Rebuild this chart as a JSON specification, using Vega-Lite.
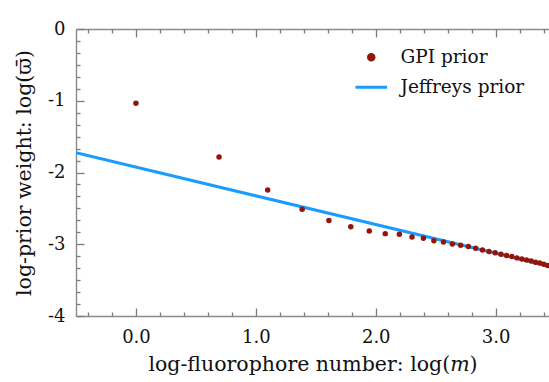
{
  "$schema": "https://vega.github.io/schema/vega-lite/v6.json",
  "autosize": "none",
  "width": 473,
  "height": 287,
  "padding": {"left": 76, "top": 29, "right": 0, "bottom": 66},
  "background": "white",
  "config": {
    "view": {"stroke": null},
    "font": "DejaVu Serif",
    "axis": {
      "domainColor": "#8a8a8a",
      "domainWidth": 1.4,
      "tickColor": "#7a7a7a",
      "tickWidth": 1.3,
      "grid": false,
      "labelFont": "DejaVu Serif",
      "labelFontSize": 18,
      "labelColor": "#111111",
      "titleFont": "DejaVu Serif",
      "titleFontSize": 20.5,
      "titleFontWeight": "normal",
      "titleColor": "#111111"
    },
    "legend": {
      "labelFont": "DejaVu Serif",
      "labelFontSize": 18.5,
      "labelColor": "#111111"
    }
  },
  "datasets": {
    "gpi": [
      {"m": 1, "x": 0.0, "y": -1.035, "series": "GPI prior"},
      {"m": 2, "x": 0.6931, "y": -1.784, "series": "GPI prior"},
      {"m": 3, "x": 1.0986, "y": -2.244, "series": "GPI prior"},
      {"m": 4, "x": 1.3863, "y": -2.513, "series": "GPI prior"},
      {"m": 5, "x": 1.6094, "y": -2.668, "series": "GPI prior"},
      {"m": 6, "x": 1.7918, "y": -2.757, "series": "GPI prior"},
      {"m": 7, "x": 1.9459, "y": -2.815, "series": "GPI prior"},
      {"m": 8, "x": 2.0794, "y": -2.852, "series": "GPI prior"},
      {"m": 9, "x": 2.1972, "y": -2.862, "series": "GPI prior"},
      {"m": 10, "x": 2.3026, "y": -2.899, "series": "GPI prior"},
      {"m": 11, "x": 2.3979, "y": -2.917, "series": "GPI prior"},
      {"m": 12, "x": 2.4849, "y": -2.95, "series": "GPI prior"},
      {"m": 13, "x": 2.5649, "y": -2.968, "series": "GPI prior"},
      {"m": 14, "x": 2.6391, "y": -2.996, "series": "GPI prior"},
      {"m": 15, "x": 2.7081, "y": -3.015, "series": "GPI prior"},
      {"m": 16, "x": 2.7726, "y": -3.03, "series": "GPI prior"},
      {"m": 17, "x": 2.8332, "y": -3.056, "series": "GPI prior"},
      {"m": 18, "x": 2.8904, "y": -3.08, "series": "GPI prior"},
      {"m": 19, "x": 2.9444, "y": -3.1, "series": "GPI prior"},
      {"m": 20, "x": 2.9957, "y": -3.12, "series": "GPI prior"},
      {"m": 21, "x": 3.0445, "y": -3.138, "series": "GPI prior"},
      {"m": 22, "x": 3.091, "y": -3.157, "series": "GPI prior"},
      {"m": 23, "x": 3.1355, "y": -3.172, "series": "GPI prior"},
      {"m": 24, "x": 3.1781, "y": -3.19, "series": "GPI prior"},
      {"m": 25, "x": 3.2189, "y": -3.205, "series": "GPI prior"},
      {"m": 26, "x": 3.2581, "y": -3.218, "series": "GPI prior"},
      {"m": 27, "x": 3.2958, "y": -3.232, "series": "GPI prior"},
      {"m": 28, "x": 3.3322, "y": -3.25, "series": "GPI prior"},
      {"m": 29, "x": 3.3673, "y": -3.262, "series": "GPI prior"},
      {"m": 30, "x": 3.4012, "y": -3.278, "series": "GPI prior"},
      {"m": 31, "x": 3.434, "y": -3.296, "series": "GPI prior"}
    ],
    "jeffreys": [
      {"x": -0.5, "y": -1.725, "series": "Jeffreys prior"},
      {"x": 3.445, "y": -3.303, "series": "Jeffreys prior"}
    ]
  },
  "resolve": {
    "scale": {"x": "shared", "y": "shared", "color": "shared"},
    "axis": {"x": "independent", "y": "independent"}
  },
  "layer": [
    {
      "data": {"name": "jeffreys"},
      "mark": {"type": "line", "strokeWidth": 3, "clip": true},
      "encoding": {
        "x": {
          "field": "x", "type": "quantitative",
          "scale": {"domain": [-0.5, 3.445], "nice": false, "zero": false},
          "axis": {"orient": "top", "values": [0, 1, 2, 3], "labels": false, "tickSize": -8, "title": null}
        },
        "y": {
          "field": "y", "type": "quantitative",
          "scale": {"domain": [-4, 0], "nice": false, "zero": false},
          "axis": {
            "orient": "left", "values": [0, -1, -2, -3, -4], "tickSize": -8,
            "labelPadding": 19,
            "labelExpr": "datum.value == 0 ? '0' : '-' + abs(datum.value)",
            "title": "log-prior weight: log(ϖ̄)", "titlePadding": 13
          }
        },
        "color": {
          "field": "series", "type": "nominal",
          "scale": {"domain": ["GPI prior", "Jeffreys prior"], "range": ["#931509", "#1a9cff"]},
          "legend": {
            "title": null,
            "orient": "none",
            "legendX": 286,
            "legendY": 19,
            "padding": 0,
            "symbolSize": 1000,
            "labelOffset": 20,
            "rowPadding": 11,
            "encode": {
              "symbols": {
                "update": {
                  "shape": {"signal": "datum.value === 'Jeffreys prior' ? 'stroke' : 'circle'"},
                  "size": {"signal": "datum.value === 'Jeffreys prior' ? 1000 : 30"},
                  "fill": {"signal": "datum.value === 'Jeffreys prior' ? 'transparent' : '#931509'"},
                  "stroke": {"signal": "datum.value === 'Jeffreys prior' ? '#1a9cff' : 'transparent'"},
                  "strokeWidth": {"value": 3},
                  "opacity": {"value": 1}
                }
              }
            }
          }
        }
      }
    },
    {
      "data": {"name": "gpi"},
      "mark": {"type": "circle", "size": 30, "opacity": 1, "clip": true},
      "encoding": {
        "x": {
          "field": "x", "type": "quantitative",
          "axis": {
            "orient": "bottom", "values": [0, 1, 2, 3], "format": ".1f", "tickSize": -8,
            "labelPadding": 20,
            "title": "log-fluorophore number: log(𝑚)", "titlePadding": 8
          }
        },
        "y": {
          "field": "y", "type": "quantitative",
          "axis": {
            "orient": "left", "labels": false, "tickSize": -4, "domain": false, "title": null,
            "values": [-0.1667, -0.3333, -0.5, -0.6667, -0.8333, -1.1667, -1.3333, -1.5, -1.6667, -1.8333, -2.1667, -2.3333, -2.5, -2.6667, -2.8333, -3.1667, -3.3333, -3.5, -3.6667, -3.8333]
          }
        },
        "color": {"field": "series", "type": "nominal"}
      }
    },
    {
      "data": {"name": "gpi"},
      "mark": {"type": "circle", "opacity": 0},
      "encoding": {
        "x": {
          "field": "x", "type": "quantitative",
          "axis": {
            "orient": "bottom", "labels": false, "tickSize": -4, "domain": false, "title": null,
            "values": [-0.4, -0.2, 0.2, 0.4, 0.6, 0.8, 1.2, 1.4, 1.6, 1.8, 2.2, 2.4, 2.6, 2.8, 3.2, 3.4]
          }
        },
        "y": {"field": "y", "type": "quantitative", "axis": null}
      }
    },
    {
      "data": {"name": "gpi"},
      "mark": {"type": "circle", "opacity": 0},
      "encoding": {
        "x": {
          "field": "x", "type": "quantitative",
          "axis": {
            "orient": "top", "labels": false, "tickSize": -4, "domain": false, "title": null,
            "values": [-0.4, -0.2, 0.2, 0.4, 0.6, 0.8, 1.2, 1.4, 1.6, 1.8, 2.2, 2.4, 2.6, 2.8, 3.2, 3.4]
          }
        },
        "y": {"field": "y", "type": "quantitative", "axis": null}
      }
    }
  ]
}
